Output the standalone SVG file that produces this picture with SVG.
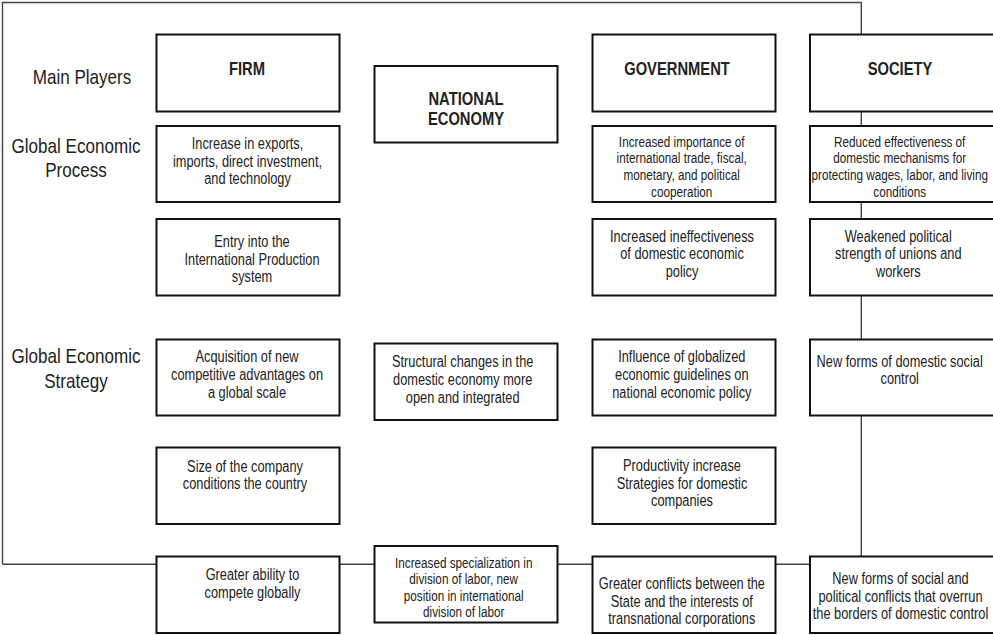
<svg xmlns="http://www.w3.org/2000/svg" width="993" height="635" viewBox="0 0 993 635">
<style>
.bg{fill:#fff}
.box{fill:#fff;stroke:#111;stroke-width:2}
.conn{fill:none;stroke:#444;stroke-width:1.4}
text{font-family:"Liberation Sans",Arial,sans-serif;fill:#222;text-anchor:middle}
.t{font-size:15.6px}
.s{font-size:14.3px}
.h{font-size:18px;font-weight:bold}
.lab{font-size:20.8px}
</style>
<rect class="bg" x="0" y="0" width="993" height="635"/>
<g id="connectors">
<path class="conn" d="M2.5 564.3 V2.5 H861.3 V560"/>
<path class="conn" d="M2.5 564.3 H994"/>
</g>
<g id="labels">
<g transform="translate(82 0) scale(.82 1)"><text class="lab" y="84">Main Players</text></g>
<g transform="translate(76 0) scale(.82 1)"><text class="lab" y="153">Global Economic</text><text class="lab" y="177">Process</text></g>
<g transform="translate(76 0) scale(.82 1)"><text class="lab" y="363.5">Global Economic</text><text class="lab" y="388">Strategy</text></g>
</g>
<g id="firm"><rect class="box" x="156.5" y="34.5" width="183" height="77"/>
<g transform="translate(247 0) scale(.82 1)"><text class="h" y="75">FIRM</text></g></g>
<g id="firm-process-1"><rect class="box" x="156.5" y="126" width="183" height="76"/>
<g transform="translate(247.5 0) scale(.82 1)">
<text class="t" y="149">Increase in exports,</text>
<text class="t" y="166.7">imports, direct investment,</text>
<text class="t" y="184.3">and technology</text></g></g>
<g id="firm-process-2"><rect class="box" x="156.5" y="219" width="183" height="76.5"/>
<g transform="translate(252 0) scale(.82 1)">
<text class="t" y="246.7">Entry into the</text>
<text class="t" y="264.6">International Production</text>
<text class="t" y="282.5">system</text></g></g>
<g id="firm-strategy-1"><rect class="box" x="156.5" y="339.5" width="183" height="76"/>
<g transform="translate(247 0) scale(.82 1)">
<text class="t" y="362.3">Acquisition of new</text>
<text class="t" y="380">competitive advantages on</text>
<text class="t" y="397.7">a global scale</text></g></g>
<g id="firm-strategy-2"><rect class="box" x="156.5" y="447.5" width="183" height="76.5"/>
<g transform="translate(245 0) scale(.82 1)">
<text class="t" y="471.7">Size of the company</text>
<text class="t" y="489.3">conditions the country</text></g></g>
<g id="firm-result"><rect class="box" x="156.5" y="556.5" width="183" height="76.5"/>
<g transform="translate(252.5 0) scale(.82 1)">
<text class="t" y="580">Greater ability to</text>
<text class="t" y="597.7">compete globally</text></g></g>
<g id="national-economy"><rect class="box" x="374.5" y="66" width="183" height="76.5"/>
<g transform="translate(466 0) scale(.82 1)">
<text class="h" y="105">NATIONAL</text>
<text class="h" y="125">ECONOMY</text></g></g>
<g id="national-strategy"><rect class="box" x="374.5" y="343.5" width="183" height="76.5"/>
<g transform="translate(462.7 0) scale(.82 1)">
<text class="t" y="367.3">Structural changes in the</text>
<text class="t" y="385">domestic economy more</text>
<text class="t" y="402.7">open and integrated</text></g></g>
<g id="national-result"><rect class="box" x="374.5" y="546" width="183" height="76.5"/>
<g transform="translate(463.7 0) scale(.82 1)">
<text class="s" y="568.3">Increased specialization in</text>
<text class="s" y="584.5">division of labor, new</text>
<text class="s" y="600.8">position in international</text>
<text class="s" y="617">division of labor</text></g></g>
<g id="government"><rect class="box" x="592.5" y="34.5" width="183" height="77"/>
<g transform="translate(677 0) scale(.82 1)"><text class="h" y="75">GOVERNMENT</text></g></g>
<g id="gov-process-1"><rect class="box" x="592.5" y="126" width="183" height="76"/>
<g transform="translate(681.7 0) scale(.82 1)">
<text class="s" y="146.7">Increased importance of</text>
<text class="s" y="163.3">international trade, fiscal,</text>
<text class="s" y="180">monetary, and political</text>
<text class="s" y="196.7">cooperation</text></g></g>
<g id="gov-process-2"><rect class="box" x="592.5" y="219" width="183" height="76.5"/>
<g transform="translate(682 0) scale(.82 1)">
<text class="t" y="241.7">Increased ineffectiveness</text>
<text class="t" y="259.4">of domestic economic</text>
<text class="t" y="277.1">policy</text></g></g>
<g id="gov-strategy-1"><rect class="box" x="592.5" y="339.5" width="183" height="76"/>
<g transform="translate(681.8 0) scale(.82 1)">
<text class="t" y="362.3">Influence of globalized</text>
<text class="t" y="380">economic guidelines on</text>
<text class="t" y="397.7">national economic policy</text></g></g>
<g id="gov-strategy-2"><rect class="box" x="592.5" y="447.5" width="183" height="76.5"/>
<g transform="translate(682 0) scale(.82 1)">
<text class="t" y="471">Productivity increase</text>
<text class="t" y="488.7">Strategies for domestic</text>
<text class="t" y="506.4">companies</text></g></g>
<g id="gov-result"><rect class="box" x="592.5" y="556.5" width="183" height="76.5"/>
<g transform="translate(681.8 0) scale(.82 1)">
<text class="t" y="589">Greater conflicts between the</text>
<text class="t" y="606.7">State and the interests of</text>
<text class="t" y="624.3">transnational corporations</text></g></g>
<g id="society"><rect class="box" x="810" y="34.5" width="184" height="77"/>
<g transform="translate(900 0) scale(.82 1)"><text class="h" y="75">SOCIETY</text></g></g>
<g id="soc-process-1"><rect class="box" x="810" y="126" width="184" height="76"/>
<g transform="translate(899.7 0) scale(.82 1)">
<text class="s" y="146.7">Reduced effectiveness of</text>
<text class="s" y="163.3">domestic mechanisms for</text>
<text class="s" y="180">protecting wages, labor, and living</text>
<text class="s" y="196.7">conditions</text></g></g>
<g id="soc-process-2"><rect class="box" x="810" y="219" width="184" height="76.5"/>
<g transform="translate(898.3 0) scale(.82 1)">
<text class="t" y="241.7">Weakened political</text>
<text class="t" y="259.4">strength of unions and</text>
<text class="t" y="277.1">workers</text></g></g>
<g id="soc-strategy-1"><rect class="box" x="810" y="339.5" width="184" height="76"/>
<g transform="translate(899.7 0) scale(.82 1)">
<text class="t" y="366.7">New forms of domestic social</text>
<text class="t" y="384.3">control</text></g></g>
<g id="soc-result"><rect class="box" x="810" y="556.5" width="184" height="76.5"/>
<g transform="translate(900.5 0) scale(.82 1)">
<text class="t" y="584.3">New forms of social and</text>
<text class="t" y="601.8">political conflicts that overrun</text>
<text class="t" y="619.5">the borders of domestic control</text></g></g>
</svg>
